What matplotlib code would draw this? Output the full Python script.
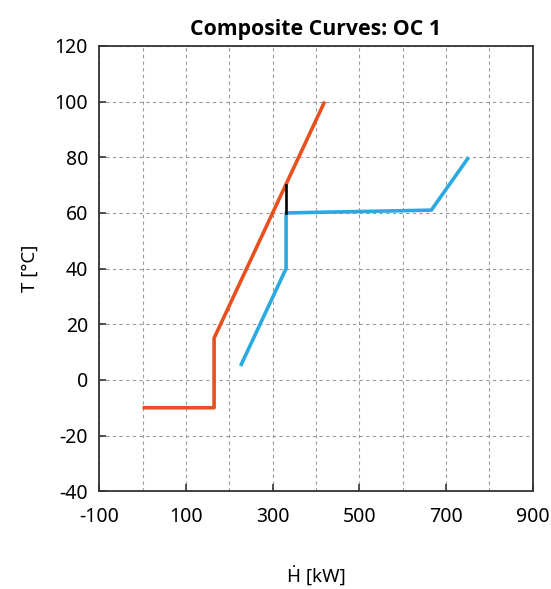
import matplotlib
matplotlib.use("Agg")
import matplotlib.pyplot as plt

plt.rcParams['font.family'] = ['Noto Sans', 'DejaVu Sans']
plt.rcParams['axes.unicode_minus'] = False

# hot composite curve
hot_H = [0, 165, 165, 420]
hot_T = [-10, -10, 15, 100]
# cold composite curve
cold_H = [226, 331, 331, 666, 752]
cold_T = [5, 40, 60, 61, 80]
# minimum approach (pinch) marker
pinch_H = [331, 331]
pinch_T = [60, 70]

xticks = [-100, 100, 300, 500, 700, 900]
yticks = [-40, -20, 0, 20, 40, 60, 80, 100, 120]

fig = plt.figure(figsize=(5.51, 5.89), dpi=100)
ax = fig.add_axes([0.18, 0.166, 0.787, 0.756])

ax.plot(hot_H, hot_T, color='#E8501F', lw=2.6, solid_capstyle='butt', zorder=3)
ax.plot(cold_H, cold_T, color='#2AAAE0', lw=2.6, solid_capstyle='butt', zorder=3)
ax.plot(pinch_H, pinch_T, color='black', lw=1.9, zorder=4)

ax.set_xlim(-100, 900)
ax.set_ylim(-40, 120)
ax.set_xticks(xticks)
ax.set_xticks(range(0, 900, 200), minor=True)
ax.set_yticks(yticks)
ax.grid(True, which='both', color='#9a9a9a', ls=(0, (3, 3)), lw=0.8)
ax.tick_params(which='major', direction='in', length=5, width=1.2, color='#333333',
               labelsize=14, top=False, right=False)
ax.tick_params(axis='x', which='major', pad=11)
ax.tick_params(axis='y', which='major', pad=8)
ax.tick_params(which='minor', length=0)
for s in ax.spines.values():
    s.set_color('#333333')
    s.set_linewidth(1.3)

ax.set_title('Composite Curves: OC 1', fontsize=15.3, fontweight='bold', pad=8,
             family=['Open Sans', 'DejaVu Sans'])
ax.set_xlabel('\u1E22 [kW]', fontsize=13.5, labelpad=28)
ax.set_ylabel('T [°C]', fontsize=13.5, labelpad=11)

fig.savefig('out.png', dpi=100)
